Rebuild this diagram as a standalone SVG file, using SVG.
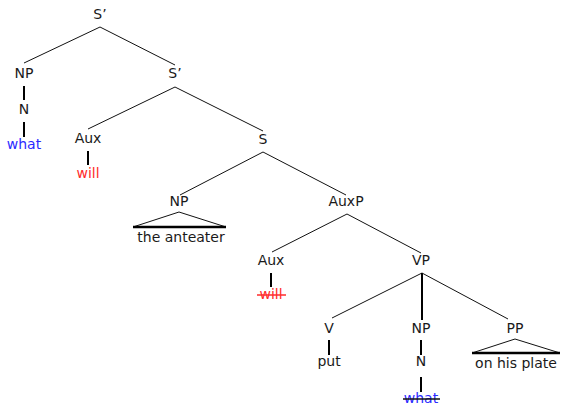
<svg xmlns="http://www.w3.org/2000/svg" width="561" height="405" viewBox="0 0 561 405">
<style>
text{font-family:"DejaVu Sans","Liberation Sans",sans-serif;font-size:14px;fill:#1a1a1a;text-anchor:middle}
.b{fill:#2b2bff}.r{fill:#ff2b2b}
.e{stroke:#111;stroke-width:1;fill:none}
.u{stroke:#000;stroke-width:2;fill:none}
.t{stroke:#000;stroke-width:2.5;fill:none}
.sr{stroke:#ff2b2b;stroke-width:1.5}
.sk{stroke:#111;stroke-width:1.5}
</style>
<rect width="561" height="405" fill="#fff"/>
<g id="connectors">
<line class="e" x1="100" y1="27" x2="24" y2="63"/>
<line class="e" x1="100" y1="27" x2="175" y2="65"/>
<line class="u" x1="24" y1="86" x2="24" y2="100"/>
<line class="u" x1="24" y1="122" x2="24" y2="137"/>
<line class="e" x1="175" y1="87" x2="88" y2="129"/>
<line class="e" x1="175" y1="87" x2="263" y2="131"/>
<line class="u" x1="88" y1="151" x2="88" y2="165"/>
<line class="e" x1="263" y1="152" x2="180" y2="195"/>
<line class="e" x1="263" y1="152" x2="346" y2="195"/>
<line class="e" x1="179" y1="212" x2="133" y2="227"/>
<line class="e" x1="179" y1="212" x2="226" y2="227"/>
<line class="t" x1="133" y1="227" x2="226" y2="227"/>
<line class="e" x1="347" y1="214" x2="272" y2="252"/>
<line class="e" x1="347" y1="214" x2="421" y2="253"/>
<line class="u" x1="271" y1="273" x2="271" y2="287"/>
<line class="e" x1="422" y1="273" x2="332" y2="318"/>
<line class="u" x1="422" y1="273" x2="422" y2="320"/>
<line class="e" x1="422" y1="273" x2="508" y2="319"/>
<line class="u" x1="329" y1="340" x2="329" y2="355"/>
<line class="u" x1="421" y1="340" x2="421" y2="355"/>
<line class="u" x1="421" y1="377" x2="421" y2="392"/>
<line class="e" x1="515" y1="339" x2="472" y2="353"/>
<line class="e" x1="515" y1="339" x2="560" y2="353"/>
<line class="t" x1="472" y1="353" x2="560" y2="353"/>
</g>
<g id="n-Sbar1"><text x="100" y="19">S’</text></g>
<g id="n-NP1"><text x="24" y="78">NP</text></g>
<g id="n-N1"><text x="24" y="114">N</text></g>
<g id="n-what1"><text class="b" x="24" y="149">what</text></g>
<g id="n-Sbar2"><text x="175" y="78">S’</text></g>
<g id="n-Aux1"><text x="88" y="143">Aux</text></g>
<g id="n-will1"><text class="r" x="88" y="178">will</text></g>
<g id="n-S"><text x="263" y="144">S</text></g>
<g id="n-NP2"><text x="179" y="206">NP</text></g>
<g id="n-anteater"><text x="181" y="242">the anteater</text></g>
<g id="n-AuxP"><text x="346" y="206">AuxP</text></g>
<g id="n-Aux2"><text x="271" y="265">Aux</text></g>
<g id="n-will2"><text class="r" x="271" y="299">will</text><line class="sr" x1="257" y1="295" x2="286" y2="295"/></g>
<g id="n-VP"><text x="421" y="265">VP</text></g>
<g id="n-V"><text x="329" y="333">V</text></g>
<g id="n-put"><text x="329" y="366">put</text></g>
<g id="n-NP3"><text x="421" y="333">NP</text></g>
<g id="n-N2"><text x="421" y="366">N</text></g>
<g id="n-what2"><text class="b" x="421" y="403">what</text><line class="sk" x1="403" y1="399" x2="440" y2="399"/></g>
<g id="n-PP"><text x="515" y="333">PP</text></g>
<g id="n-plate"><text x="516" y="368">on his plate</text></g>
</svg>
